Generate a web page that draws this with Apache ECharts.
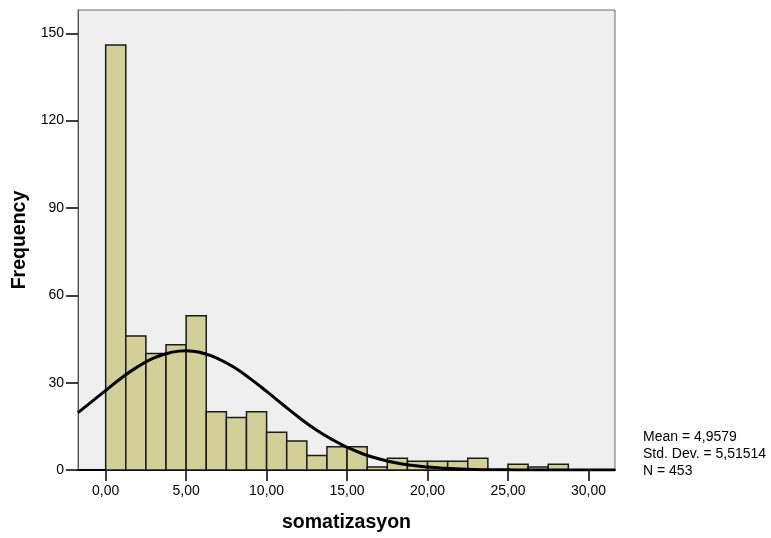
<!DOCTYPE html>
<html>
<head>
<meta charset="utf-8">
<script src="https://cdn.jsdelivr.net/npm/echarts@6/dist/echarts.min.js"></script>
<style>
  html, body { margin: 0; padding: 0; background: #fff; }
  #chart { width: 771px; height: 538px; }
</style>
</head>
<body>
<div id="chart"></div>
<script>
// histogram bins (width 1.25, starting at 0)
const binWidth = 1.25;
const counts = [146, 46, 40, 43, 53, 20, 18, 20, 13, 10, 5, 8, 8, 1, 4, 3, 3, 3, 4, 0, 2, 1, 2, 0];

// normal curve
const curveX = [-1.72, -1, 0, 1, 2, 3, 4, 5, 6, 7, 8, 9, 10, 11, 12, 13, 14, 15, 16, 17, 18, 19, 20, 21, 22, 23, 24, 25, 26, 28, 31.65];
const curveY = [19.7, 22.9, 27.3, 31.7, 35.5, 38.5, 40.3, 41.0, 40.2, 38.2, 35.2, 31.3, 27.0, 22.5, 18.1, 14.1, 10.7, 7.8, 5.5, 3.8, 2.5, 1.6, 1.0, 0.6, 0.35, 0.19, 0.1, 0.05, 0.02, 0, 0];

const xTicks = [0, 5, 10, 15, 20, 25, 30];
const yTicks = [0, 30, 60, 90, 120, 150];
const statsLines = ['Mean = 4,9579', 'Std. Dev. = 5,51514', 'N = 453'];

const font = 'Liberation Sans, Arial, sans-serif';

let barData = [];
for (let i = 0; i < counts.length; i++) {
  if (counts[i] > 0) barData.push([i * binWidth, (i + 1) * binWidth, counts[i]]);
}
let curveData = curveX.map((x, i) => [x, curveY[i]]);

const chart = echarts.init(document.getElementById('chart'));
const option = {
  animation: false,
  backgroundColor: '#fff',
  textStyle: { fontFamily: font },
  title: {
    text: statsLines.join('\n'),
    left: 638,
    top: 424,
    textStyle: { fontFamily: font, fontSize: 14, fontWeight: 'normal', color: '#000', lineHeight: 17 }
  },
  grid: {
    left: 78, top: 10, right: 156, bottom: 68,
    show: true,
    backgroundColor: '#efefef',
    borderColor: '#6a6a6a',
    borderWidth: 1
  },
  xAxis: {
    type: 'value',
    min: -1.72,
    max: 31.65,
    name: 'somatizasyon',
    nameLocation: 'middle',
    nameGap: 43,
    nameTextStyle: { fontFamily: font, fontSize: 19.5, fontWeight: 'bold', color: '#000' },
    axisLine: { onZero: false, lineStyle: { color: '#000', width: 2 } },
    axisTick: { customValues: xTicks, length: 11, lineStyle: { color: '#000', width: 1.5 } },
    axisLabel: {
      customValues: xTicks,
      margin: 14,
      fontFamily: font, fontSize: 14, color: '#000',
      formatter: v => v.toFixed(2).replace('.', ',')
    },
    splitLine: { show: false }
  },
  yAxis: {
    type: 'value',
    min: 0,
    max: 158,
    name: 'Frequency',
    nameLocation: 'middle',
    nameGap: 47,
    nameTextStyle: { fontFamily: font, fontSize: 19.5, fontWeight: 'bold', color: '#000' },
    axisLine: { show: true, onZero: false, lineStyle: { color: '#555', width: 1 } },
    axisTick: { customValues: yTicks, length: 12, lineStyle: { color: '#000', width: 1.5 } },
    axisLabel: { customValues: yTicks, margin: 14, fontFamily: font, fontSize: 14, color: '#000' },
    splitLine: { show: false }
  },
  series: [
    {
      type: 'custom',
      data: barData,
      encode: { x: [0, 1], y: 2 },
      renderItem: function (params, api) {
        const p0 = api.coord([api.value(0), 0]);
        const p1 = api.coord([api.value(1), api.value(2)]);
        return {
          type: 'rect',
          shape: { x: p0[0], y: p1[1], width: p1[0] - p0[0], height: p0[1] - p1[1] },
          style: { fill: '#d3cf98', stroke: '#1a1a1a', lineWidth: 1.5 }
        };
      }
    },
    {
      type: 'line',
      data: curveData,
      smooth: true,
      showSymbol: false,
      lineStyle: { color: '#000', width: 3 },
      z: 5
    }
  ]
};
chart.setOption(option);
window.addEventListener('resize', () => chart.resize());
</script>
</body>
</html>
